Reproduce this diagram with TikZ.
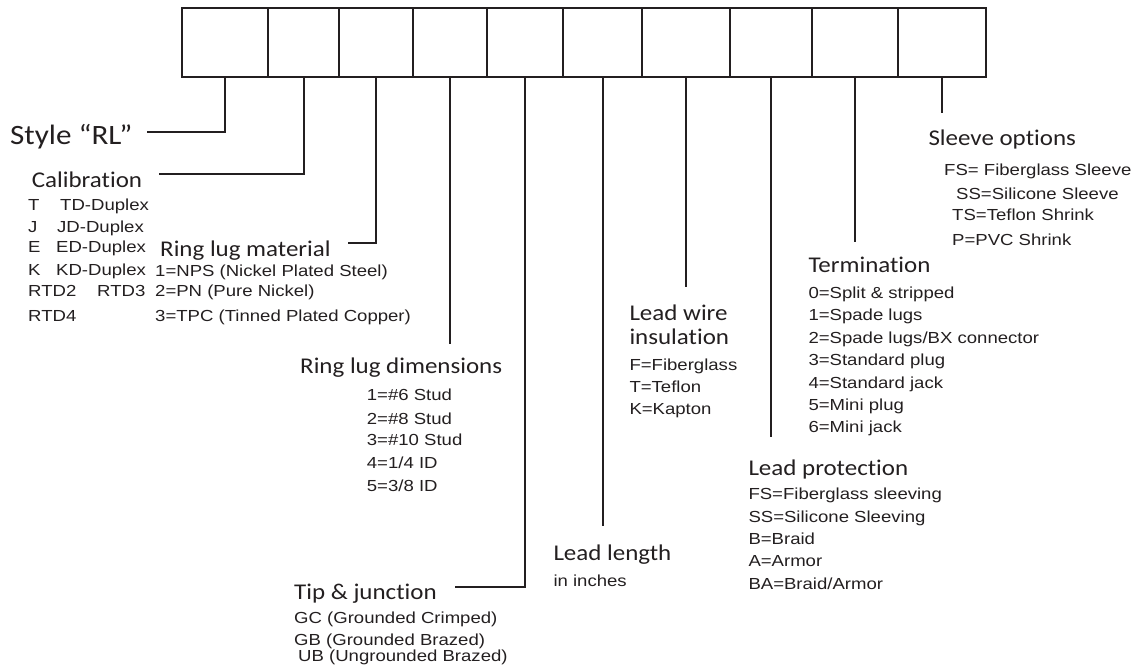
\documentclass[tikz,border=0pt]{standalone}
\usepackage{fontspec}
\setmainfont{Liberation Sans}[FakeStretch=1.16]
\newfontfamily\hfont{Carlito}[FakeStretch=1.11,Ligatures=NoCommon]
\definecolor{ink}{HTML}{231F20}
\tikzset{
  cell/.style={draw=ink, line width=2.2pt, minimum height=69pt, inner sep=0pt, outer sep=0pt, anchor=north west},
  conn/.style={draw=ink, line width=2pt},
  head/.style={anchor=base west, inner sep=0pt, text=ink, font=\hfont\fontsize{22.5}{22.5}\selectfont},
  big/.style={anchor=base west, inner sep=0pt, text=ink, font=\hfont\fontsize{28}{28}\selectfont},
  item/.style={anchor=base west, inner sep=0pt, text=ink, font=\fontsize{16}{16}\selectfont}
}
\begin{document}
\begin{tikzpicture}[x=1pt,y=-1pt]
\useasboundingbox (0,0) rectangle (1143,668);
% code boxes
\node[cell, minimum width=86pt] (b1) at (182,8) {};
\node[cell, minimum width=71pt] (b2) at (268,8) {};
\node[cell, minimum width=74pt] (b3) at (339,8) {};
\node[cell, minimum width=74pt] (b4) at (413,8) {};
\node[cell, minimum width=76pt] (b5) at (487,8) {};
\node[cell, minimum width=79pt] (b6) at (563,8) {};
\node[cell, minimum width=88pt] (b7) at (642,8) {};
\node[cell, minimum width=82pt] (b8) at (730,8) {};
\node[cell, minimum width=86pt] (b9) at (812,8) {};
\node[cell, minimum width=88pt] (b10) at (898,8) {};

% headings
\node[big] (style) at (10,145) {Style “RL”};
\node[head] (cal) at (31.7,187.3) {Calibration};
\node[head] (rlm) at (160,256.7) {Ring lug material};
\node[head] (rld) at (300,373.3) {Ring lug dimensions};
\node[head] (tip) at (294,599.3) {Tip \& junction};
\node[head] (ll) at (553.3,560.7) {Lead length};
\node[head] (lw1) at (629.3,320) {Lead wire};
\node[head] (lw2) at (629.3,344) {insulation};
\node[head] (lp) at (748.3,475.7) {Lead protection};
\node[head] (term) at (808.3,272.3) {Termination};
\node[head] (sl) at (928.3,146) {Sleeve options};

% calibration items
\foreach \l/\d/\xd/\y in {T/TD-Duplex/60/211, J/JD-Duplex/57/232.3, E/ED-Duplex/56/252.7, K/KD-Duplex/56/276}{
  \node[item] (cl\l) at (28,\y) {\l};
  \node[item] (cd\l) at (\xd,\y) {\d};
}
\node[item] (rtd2) at (28,296.7) {RTD2};
\node[item] (rtd3) at (97,296.7) {RTD3};
\node[item] (rtd4) at (28,321.7) {RTD4};

% ring lug material items
\node[item] (m1) at (155,276.7) {1=NPS (Nickel Plated Steel)};
\node[item] (m2) at (155,296.7) {2=PN (Pure Nickel)};
\node[item] (m3) at (155,321.7) {3=TPC (Tinned Plated Copper)};

% ring lug dimensions items
\node[item] (d1) at (366.7,400.7) {1=\#6 Stud};
\node[item] (d2) at (366.7,424) {2=\#8 Stud};
\node[item] (d3) at (366.7,445.7) {3=\#10 Stud};
\node[item] (d4) at (366.7,468.3) {4=1/4 ID};
\node[item] (d5) at (366.7,491.7) {5=3/8 ID};

% tip items
\node[item] (t1) at (294,623.3) {GC (Grounded Crimped)};
\node[item] (t2) at (294,645) {GB (Grounded Brazed)};
\node[item] (t3) at (298,661.7) {UB (Ungrounded Brazed)};

% lead length
\node[item] (inch) at (553.3,586) {in inches};

% lead wire insulation items
\node[item] (w1) at (629.3,370) {F=Fiberglass};
\node[item] (w2) at (629.3,392.7) {T=Teflon};
\node[item] (w3) at (629.3,414) {K=Kapton};

% lead protection items
\node[item] (p1) at (748.3,499) {FS=Fiberglass sleeving};
\node[item] (p2) at (748.3,522.3) {SS=Silicone Sleeving};
\node[item] (p3) at (748.3,544) {B=Braid};
\node[item] (p4) at (748.3,566.7) {A=Armor};
\node[item] (p5) at (748.3,589) {BA=Braid/Armor};

% termination items
\node[item] (r0) at (808.3,298.3) {0=Split \& stripped};
\node[item] (r1) at (808.3,320.7) {1=Spade lugs};
\node[item] (r2) at (808.3,343.3) {2=Spade lugs/BX connector};
\node[item] (r3) at (808.3,365.7) {3=Standard plug};
\node[item] (r4) at (808.3,388.3) {4=Standard jack};
\node[item] (r5) at (808.3,410.7) {5=Mini plug};
\node[item] (r6) at (808.3,432.7) {6=Mini jack};

% sleeve items
\node[item] (s1) at (944,175.3) {FS= Fiberglass Sleeve};
\node[item] (s2) at (956,199.3) {SS=Silicone Sleeve};
\node[item] (s3) at (952,220.7) {TS=Teflon Shrink};
\node[item] (s4) at (952,246) {P=PVC Shrink};

% connector ends
\coordinate (e1) at (147,132.3);
\coordinate (e2) at (159,174);
\coordinate (e3) at (348,243.3);
\coordinate (e4) at (450,344);
\coordinate (e5) at (455,587.3);
\coordinate (e6) at (602.5,526);
\coordinate (e7) at (686,286.7);
\coordinate (e8) at (771,437.3);
\coordinate (e9) at (855,241.7);
\coordinate (e10) at (942,113.3);

\draw[conn] (b1.south) |- (e1);
\draw[conn] (b2.south) |- (e2);
\draw[conn] (b3.south) |- (e3);
\draw[conn] (b4.south) -- (b4.south |- e4);
\draw[conn] (b5.south) |- (e5);
\draw[conn] (b6.south) -- (b6.south |- e6);
\draw[conn] (b7.south) -- (b7.south |- e7);
\draw[conn] (b8.south) -- (b8.south |- e8);
\draw[conn] (b9.south) -- (b9.south |- e9);
\draw[conn] (b10.south) -- (b10.south |- e10);
\end{tikzpicture}
\end{document}
